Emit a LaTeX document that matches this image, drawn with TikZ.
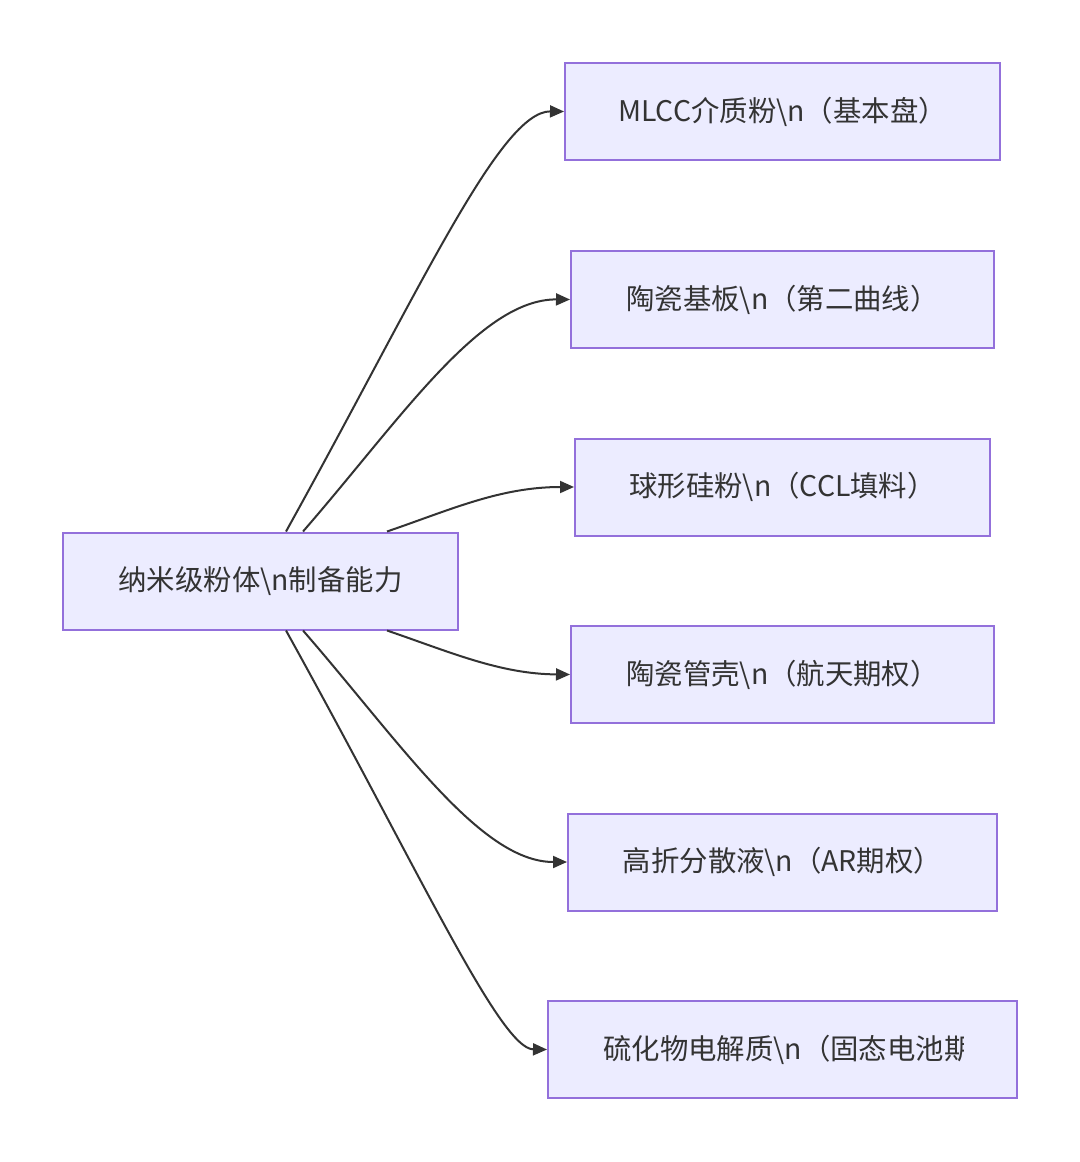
\documentclass[tikz,border=0pt]{standalone}
\usepackage{fontspec}
\setmainfont{Noto Sans CJK SC}
\usetikzlibrary{arrows.meta}
\definecolor{boxfill}{HTML}{ECECFF}
\definecolor{boxline}{HTML}{9370DB}
\definecolor{ink}{HTML}{333333}
\begin{document}
\begin{tikzpicture}[x=0.75pt,y=-0.75pt,
  box/.style={draw=boxline,fill=boxfill,line width=1.5pt,text=ink,font=\fontsize{21.3}{25}\selectfont,minimum height=72.75pt,inner sep=0pt},
  link/.style={draw=ink,line width=1.5pt,-{Triangle[length=10.5pt,width=9pt]}}]
\useasboundingbox[fill=white] (0,0) rectangle (1080,1162);
\node[box,minimum width=296.25pt] (src) at (260.5,581) {纳米级粉体\textbackslash n制备能力};
\node[box,minimum width=326.25pt] (n1) at (782.5,111.5) {MLCC介质粉\textbackslash n（基本盘）};
\node[box,minimum width=317.25pt] (n2) at (782.5,299.5) {陶瓷基板\textbackslash n（第二曲线）};
\node[box,minimum width=311.25pt] (n3) at (782.5,487) {球形硅粉\textbackslash n（CCL填料）};
\node[box,minimum width=317.25pt] (n4) at (782.5,674.5) {陶瓷管壳\textbackslash n（航天期权）};
\node[box,minimum width=321.75pt] (n5) at (782.5,862) {高折分散液\textbackslash n（AR期权）};
\node[box,minimum width=351.75pt] (n6) at (782.5,1049.5) {};
\begin{scope}
\clip (548,1001) rectangle (963,1098);
\node[anchor=west,text=ink,font=\fontsize{21.3}{25}\selectfont,inner sep=0pt] (n6text) at (603,1049.5) {硫化物电解质\textbackslash n（固态电池期权）};
\end{scope}
\draw[link] ([xshift=19.125pt]src.north) .. controls (420,290) and (500,111) .. (n1.west);
\draw[link] ([xshift=31.875pt]src.north) .. controls (400,420) and (480,299) .. (n2.west);
\draw[link] ([xshift=94.875pt]src.north) .. controls (450,510) and (500,487) .. (n3.west);
\draw[link] ([xshift=94.875pt]src.south) .. controls (450,652) and (500,674) .. (n4.west);
\draw[link] ([xshift=31.875pt]src.south) .. controls (400,742) and (480,862) .. (n5.west);
\draw[link] ([xshift=19.125pt]src.south) .. controls (420,872) and (500,1049) .. (n6.west);
\end{tikzpicture}
\end{document}
